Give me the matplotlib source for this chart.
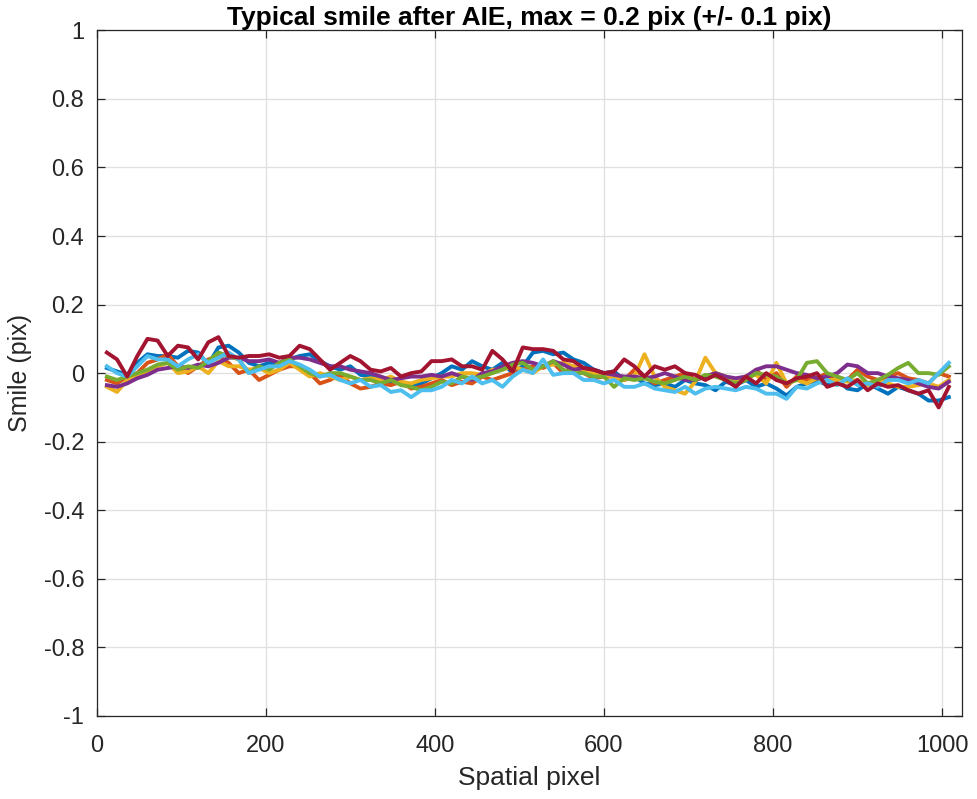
import numpy as np
import matplotlib
matplotlib.use("Agg")
import matplotlib.pyplot as plt

plt.rcParams['font.family'] = ['Liberation Sans', 'DejaVu Sans']

# spatial pixel positions of the samples
spatial = np.arange(12, 1016, 12)

blue = [0.015, 0.005, -0.005, 0.03, 0.055, 0.05, 0.05, 0.045, 0.065, 0.06, 0.025, 0.075,
        0.08, 0.06, 0.03, 0.02, 0.03, 0.025, 0.04, 0.05, 0.055, 0.035, 0.02, 0.01,
        0.02, -0.005, -0.01, -0.02, -0.03, -0.025, -0.04, -0.03, -0.015, 0.0, 0.02, 0.01,
        0.035, 0.02, 0.01, 0.03, 0.0, 0.02, 0.06, 0.065, 0.055, 0.06, 0.04, 0.03,
        0.01, 0.0, 0.005, -0.02, -0.01, -0.03, -0.035, -0.03, -0.04, -0.02, -0.03, -0.035,
        -0.05, -0.025, -0.035, -0.02, -0.04, -0.03, -0.045, -0.065, -0.04, -0.03, -0.02, -0.035,
        -0.02, -0.045, -0.05, -0.03, -0.045, -0.06, -0.04, -0.05, -0.06, -0.08, -0.08, -0.07]

orange = [-0.02, -0.03, -0.01, 0.0, 0.03, 0.04, 0.055, 0.02, 0.0, 0.02, 0.04, 0.05,
          0.03, 0.0, 0.01, -0.02, -0.005, 0.01, 0.02, 0.02, 0.0, -0.03, -0.02, -0.005,
          -0.03, -0.045, -0.04, -0.03, -0.035, -0.025, -0.045, -0.04, -0.03, -0.02, -0.035, -0.025,
          -0.03, -0.01, -0.02, -0.01, 0.0, 0.01, 0.02, 0.015, 0.03, 0.0, 0.02, 0.0,
          -0.015, -0.01, -0.01, -0.02, 0.01, -0.01, -0.03, -0.02, -0.01, 0.0, -0.02, -0.01,
          0.0, -0.01, -0.03, -0.02, 0.01, -0.02, 0.0, -0.04, -0.01, -0.02, -0.015, 0.0,
          -0.03, -0.02, 0.01, -0.01, -0.02, -0.01, 0.0, -0.015, -0.02, -0.03, 0.0, -0.01]

yellow = [-0.04, -0.055, -0.02, -0.005, 0.0, 0.02, 0.03, 0.0, 0.005, 0.02, 0.0, 0.035,
          0.02, 0.02, 0.01, 0.015, 0.0, 0.01, 0.03, 0.01, -0.01, 0.0, -0.01, -0.02,
          -0.01, -0.02, -0.015, -0.02, -0.01, -0.025, -0.03, -0.02, -0.015, -0.01, -0.01, 0.0,
          0.0, -0.005, 0.01, 0.01, 0.02, 0.01, 0.0, 0.02, 0.025, 0.03, 0.02, 0.01,
          0.0, -0.005, -0.01, -0.02, -0.01, 0.055, -0.01, -0.04, -0.05, -0.06, -0.025, 0.045,
          0.0, -0.01, -0.025, -0.01, -0.005, -0.03, 0.03, -0.03, -0.02, -0.03, -0.015, -0.02,
          -0.02, -0.025, -0.02, -0.035, -0.02, -0.03, -0.04, -0.04, -0.035, -0.03, -0.04, -0.02]

purple = [-0.035, -0.04, -0.03, -0.015, -0.005, 0.01, 0.015, 0.02, 0.015, 0.025, 0.02, 0.03,
          0.045, 0.045, 0.035, 0.035, 0.04, 0.03, 0.045, 0.045, 0.04, 0.03, 0.02, 0.02,
          0.01, 0.005, 0.0, -0.01, -0.02, -0.015, -0.01, -0.01, -0.005, -0.01, 0.0, -0.01,
          -0.02, 0.0, 0.005, 0.02, 0.03, 0.035, 0.03, 0.02, 0.035, 0.025, 0.01, 0.015,
          0.01, 0.0, -0.005, -0.01, -0.01, -0.015, -0.01, 0.0, -0.01, -0.02, -0.02, -0.01,
          0.0, -0.01, -0.015, -0.01, 0.01, 0.02, 0.02, 0.01, 0.0, -0.005, -0.015, -0.01,
          0.0, 0.025, 0.02, 0.0, 0.0, -0.01, -0.015, -0.02, -0.03, -0.04, -0.045, -0.025]

green = [-0.01, -0.02, -0.01, 0.0, 0.01, 0.025, 0.03, 0.01, 0.02, 0.015, 0.035, 0.06,
         0.05, 0.04, 0.0, 0.02, 0.01, 0.03, 0.04, 0.02, 0.0, -0.01, 0.0, 0.0,
         -0.01, -0.02, -0.02, -0.03, -0.02, -0.035, -0.04, -0.05, -0.04, -0.025, -0.03, -0.01,
         -0.015, -0.01, 0.0, 0.01, 0.025, 0.03, 0.01, 0.02, 0.035, 0.01, 0.0, 0.0,
         -0.01, -0.01, -0.04, -0.015, -0.02, -0.015, -0.025, -0.03, -0.02, -0.01, -0.02, -0.005,
         -0.01, -0.02, -0.03, -0.02, 0.0, -0.005, -0.01, -0.03, -0.02, 0.03, 0.035, 0.0,
         -0.01, -0.02, 0.0, -0.03, -0.02, -0.005, 0.015, 0.03, 0.0, 0.0, -0.005, 0.02]

cyan = [0.02, 0.0, -0.01, 0.02, 0.05, 0.04, 0.04, 0.02, 0.04, 0.055, 0.03, 0.045,
        0.06, 0.04, 0.0, 0.01, 0.02, 0.02, 0.035, 0.025, 0.01, -0.01, -0.005, -0.02,
        -0.03, -0.02, -0.04, -0.035, -0.055, -0.05, -0.07, -0.05, -0.05, -0.04, -0.02, -0.03,
        -0.01, -0.03, -0.02, -0.04, -0.01, 0.01, 0.0, 0.04, -0.005, 0.0, 0.0, -0.02,
        -0.02, -0.03, -0.02, -0.04, -0.04, -0.03, -0.045, -0.05, -0.055, -0.04, -0.06, -0.045,
        -0.04, -0.045, -0.05, -0.04, -0.045, -0.06, -0.06, -0.075, -0.04, -0.045, -0.03, -0.02,
        -0.035, -0.015, -0.035, -0.03, -0.04, -0.02, -0.02, -0.03, -0.02, -0.03, 0.0, 0.03]

red = [0.06, 0.04, -0.01, 0.05, 0.1, 0.095, 0.05, 0.08, 0.075, 0.04, 0.09, 0.105,
       0.05, 0.045, 0.05, 0.05, 0.055, 0.045, 0.05, 0.08, 0.07, 0.04, 0.01, 0.03,
       0.05, 0.035, 0.01, 0.005, 0.015, -0.01, 0.0, 0.005, 0.035, 0.035, 0.04, 0.02,
       0.02, 0.01, 0.065, 0.04, 0.005, 0.075, 0.07, 0.07, 0.065, 0.04, 0.035, 0.015,
       0.01, 0.0, 0.005, 0.04, 0.02, -0.01, 0.02, 0.01, 0.02, 0.0, -0.005, -0.02,
       -0.005, -0.02, -0.04, -0.01, -0.03, 0.0, -0.02, -0.03, -0.015, -0.01, 0.0, -0.04,
       -0.03, -0.04, -0.02, -0.05, -0.03, -0.04, -0.035, -0.05, -0.06, -0.05, -0.1, -0.04]

series = [blue, orange, yellow, purple, green, cyan, red]
colors = ['#0072BD', '#D95319', '#EDB120', '#7E2F8E', '#77AC30', '#4DBEEE', '#A2142F']

fig = plt.figure(figsize=(9.77, 7.99), dpi=100)
ax = fig.add_axes([0.099, 0.104, 0.886, 0.858])

for vals, c in zip(series, colors):
    ax.plot(spatial, vals, color=c, lw=2.8)

ax.set_xlim(0, 1024)
ax.set_ylim(-1, 1)
ax.set_xticks(np.arange(0, 1001, 200))
ax.set_yticks(np.round(np.arange(-1, 1.01, 0.2), 1))
ax.set_yticklabels(['-1', '-0.8', '-0.6', '-0.4', '-0.2', '0', '0.2', '0.4', '0.6', '0.8', '1'])
ax.grid(True, color='#dfdfdf', lw=0.9)
ax.set_axisbelow(True)
for s in ax.spines.values():
    s.set_color('#262626')
    s.set_linewidth(0.9)
ax.tick_params(direction='in', length=6, width=0.9, colors='#262626',
               labelsize=17, top=True, right=True)
ax.tick_params(axis='x', pad=14)
ax.tick_params(axis='y', pad=9)

ax.set_xlabel('Spatial pixel', fontsize=19, color='#262626', labelpad=6)
ax.set_ylabel('Smile (pix)', fontsize=18, color='#262626', labelpad=8)
ax.set_title('Typical smile after AIE, max = 0.2 pix (+/- 0.1 pix)',
             fontsize=19, fontweight='bold', pad=4)

fig.savefig('out.png', dpi=100)
